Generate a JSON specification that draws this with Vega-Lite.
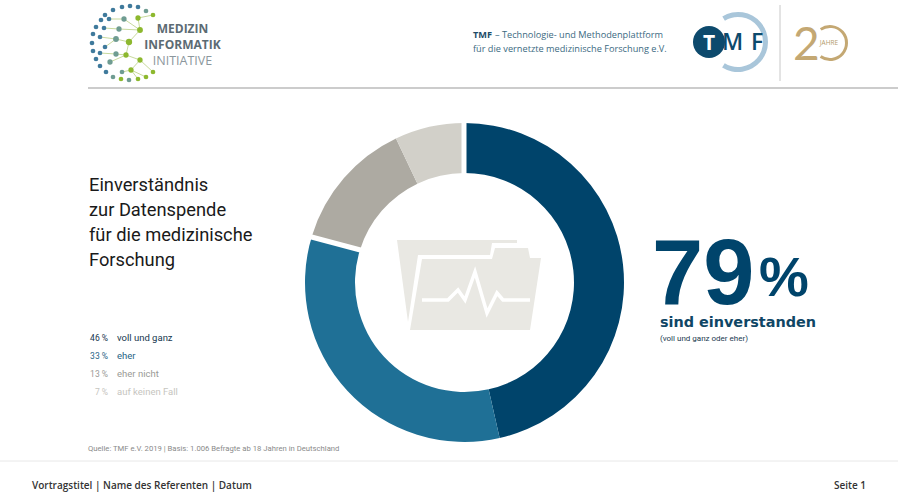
{
"$schema":"https://vega.github.io/schema/vega-lite/v6.json",
"width":898,"height":504,"padding":0,"autosize":{"type":"none"},"background":"#ffffff",
"config":{"view":{"stroke":null},"text":{"font":"Roboto","align":"left","baseline":"alphabetic"}},
"resolve":{"scale":{"y":"independent","x":"independent","color":"independent","size":"independent"}},
"datasets":{
"answers":[
{"answer":"voll und ganz","share":46,"rank":1,"pct":"46 %"},
{"answer":"eher","share":33,"rank":2,"pct":"33 %"},
{"answer":"eher nicht","share":13,"rank":3,"pct":"13 %"},
{"answer":"auf keinen Fall","share":7,"rank":4,"pct":"7 %"}],
"links":[
{"u":124,"v":19,"u2":140,"v2":30},{"u":138,"v":18,"u2":140,"v2":30},{"u":153,"v":15,"u2":138,"v2":18},{"u":119,"v":29,"u2":140,"v2":30},{"u":116,"v":39,"u2":129,"v2":42},{"u":140,"v":30,"u2":129,"v2":42},{"u":129,"v":42,"u2":126,"v2":55},{"u":126,"v":55,"u2":140,"v2":60},{"u":140,"v":60,"u2":153,"v2":72},{"u":140,"v":60,"u2":131,"v2":70},{"u":131,"v":70,"u2":122,"v2":72},{"u":131,"v":70,"u2":146,"v2":77},{"u":116,"v":54,"u2":126,"v2":55},{"u":110,"v":62,"u2":126,"v2":55},{"u":131,"v":70,"u2":138,"v2":79},{"u":109,"v":19,"u2":124,"v2":19},{"u":104,"v":28,"u2":119,"v2":29},{"u":100,"v":37,"u2":116,"v2":39},{"u":105,"v":47,"u2":116,"v2":39},{"u":100,"v":53,"u2":116,"v2":54}],
"nodes":[
{"u":122,"v":7,"tone":"blue","kind":"s"},{"u":130,"v":6,"tone":"blue","kind":"s"},{"u":138,"v":7,"tone":"blue","kind":"s"},{"u":113,"v":10,"tone":"blue","kind":"s"},{"u":105,"v":15,"tone":"blue","kind":"s"},{"u":101,"v":20,"tone":"blue","kind":"s"},{"u":96,"v":27,"tone":"blue","kind":"s"},{"u":93,"v":34,"tone":"blue","kind":"s"},{"u":92,"v":43,"tone":"blue","kind":"s"},{"u":93,"v":51,"tone":"blue","kind":"s"},{"u":96,"v":59,"tone":"blue","kind":"s"},{"u":100,"v":66,"tone":"blue","kind":"s"},{"u":106,"v":72,"tone":"blue","kind":"s"},{"u":113,"v":77,"tone":"teal","kind":"s"},{"u":121,"v":79,"tone":"green","kind":"s"},{"u":129,"v":80,"tone":"teal","kind":"s"},{"u":138,"v":79,"tone":"green","kind":"s"},{"u":146,"v":77,"tone":"green","kind":"s"},{"u":153,"v":72,"tone":"green","kind":"s"},{"u":146,"v":11,"tone":"teal","kind":"s"},{"u":153,"v":15,"tone":"green","kind":"s"},
{"u":124,"v":19,"tone":"teal","kind":"m"},{"u":109,"v":19,"tone":"blue","kind":"s"},{"u":138,"v":18,"tone":"green","kind":"m"},{"u":119,"v":29,"tone":"teal","kind":"m"},{"u":104,"v":28,"tone":"blue","kind":"s"},{"u":140,"v":30,"tone":"green","kind":"l"},{"u":100,"v":37,"tone":"blue","kind":"s"},{"u":116,"v":39,"tone":"teal","kind":"l"},{"u":129,"v":42,"tone":"green","kind":"xl"},{"u":105,"v":47,"tone":"blue","kind":"s"},{"u":100,"v":53,"tone":"blue","kind":"s"},{"u":116,"v":54,"tone":"teal","kind":"m"},{"u":126,"v":55,"tone":"green","kind":"m"},{"u":110,"v":62,"tone":"teal","kind":"m"},{"u":140,"v":60,"tone":"green","kind":"m"},{"u":131,"v":70,"tone":"green","kind":"m"},{"u":122,"v":72,"tone":"teal","kind":"s"}]
},
"layer":[
{"data":{"name":"answers"},
 "mark":{"type":"arc","outerRadius":159.5,"innerRadius":109.5},
 "encoding":{
  "x":{"datum":464.5,"type":"quantitative","scale":{"domain":[0,898],"range":[0,898]},"axis":null},
  "y":{"datum":282.5,"type":"quantitative","scale":{"domain":[0,504],"range":[0,504]},"axis":null},
  "theta":{"field":"share","type":"quantitative","stack":true},
  "order":{"field":"rank"},
  "color":{"field":"answer","type":"nominal","legend":null,"sort":null,"scale":{"domain":["voll und ganz","eher","eher nicht","auf keinen Fall"],"range":["#00446b","#1f7096","#adaaa2","#d2d0c9"]}}}},
{"data":{"values":[{"label":"gap top"}]},
 "mark":{"type":"rule","color":"#ffffff","strokeWidth":5},
 "encoding":{"x":{"datum":464,"type":"quantitative","scale":{"domain":[0,898],"range":[0,898]},"axis":null},"y":{"datum":118,"type":"quantitative","scale":{"domain":[0,504],"range":[0,504]},"axis":null},"y2":{"datum":178}}},
{"data":{"values":[{"label":"gap left"}]},
 "mark":{"type":"rule","color":"#ffffff","strokeWidth":5},
 "encoding":{"x":{"datum":304,"type":"quantitative","scale":{"domain":[0,898],"range":[0,898]},"axis":null},"x2":{"datum":366},"y":{"datum":235,"type":"quantitative","scale":{"domain":[0,504],"range":[0,504]},"axis":null},"y2":{"datum":251.5}}},
{"data":{"name":"answers"},
 "mark":{"type":"text","fontSize":8.5,"align":"right","baseline":"middle"},
 "encoding":{
  "x":{"datum":108,"type":"quantitative","scale":{"domain":[0,898],"range":[0,898]},"axis":null},
  "y":{"field":"answer","type":"ordinal","sort":null,"scale":{"type":"point","padding":0,"domain":["voll und ganz","eher","eher nicht","auf keinen Fall"],"range":[338,392]},"axis":null},
  "text":{"field":"pct"},
  "color":{"field":"answer","type":"nominal","legend":null,"scale":{"domain":["voll und ganz","eher","eher nicht","auf keinen Fall"],"range":["#16384f","#1f6485","#9a9a96","#c6c5c0"]}}}},
{"data":{"name":"answers"},
 "mark":{"type":"text","fontSize":9.5,"align":"left","baseline":"middle"},
 "encoding":{
  "x":{"datum":117,"type":"quantitative","scale":{"domain":[0,898],"range":[0,898]},"axis":null},
  "y":{"field":"answer","type":"ordinal","sort":null,"scale":{"type":"point","padding":0,"domain":["voll und ganz","eher","eher nicht","auf keinen Fall"],"range":[338,392]},"axis":null},
  "text":{"field":"answer"},
  "color":{"field":"answer","type":"nominal","legend":null,"scale":{"domain":["voll und ganz","eher","eher nicht","auf keinen Fall"],"range":["#16384f","#1f6485","#9a9a96","#c6c5c0"]}}}},
{"data":{"values":[{"label":"folder"}]},
 "mark":{"type":"point","filled":true,"size":4,"opacity":1,"color":"#e9e8e3","shape":"M-68,-45L52,-45L52,-42L27,-42L25,-30L-47,-30L-57,37ZM-43,-26L27,-26L30,-37L63,-37L65,-27L76,-27L65,45L-55,45Z"},
 "encoding":{"x":{"datum":465,"type":"quantitative","scale":{"domain":[0,898],"range":[0,898]},"axis":null},"y":{"datum":285,"type":"quantitative","scale":{"domain":[0,504],"range":[0,504]},"axis":null}}},
{"data":{"values":[{"label":"pulse"}]},
 "mark":{"type":"point","filled":false,"size":4,"opacity":1,"stroke":"#ffffff","strokeWidth":3.5,"shape":"M-43,15L-17,15L-7,5L0,15L10,-13L22,28L32,8L38,15L65,15"},
 "encoding":{"x":{"datum":465,"type":"quantitative","scale":{"domain":[0,898],"range":[0,898]},"axis":null},"y":{"datum":285,"type":"quantitative","scale":{"domain":[0,504],"range":[0,504]},"axis":null}}},
{"data":{"values":[{"label":"Einverständnis\nzur Datenspende\nfür die medizinische\nForschung"}]},
 "mark":{"type":"text","fontSize":18.3,"lineBreak":"\n","lineHeight":25,"color":"#1a1a1a"},
 "encoding":{"text":{"field":"label"},"x":{"datum":89,"type":"quantitative","scale":{"domain":[0,898],"range":[0,898]},"axis":null},"y":{"datum":191,"type":"quantitative","scale":{"domain":[0,504],"range":[0,504]},"axis":null}}},
{"data":{"values":[{"label":"79"}]},
 "mark":{"type":"text","fontSize":92,"font":"Liberation Sans","fontWeight":"bold","color":"#00446b"},
 "encoding":{"text":{"field":"label"},"x":{"datum":652,"type":"quantitative","scale":{"domain":[0,898],"range":[0,898]},"axis":null},"y":{"datum":304,"type":"quantitative","scale":{"domain":[0,504],"range":[0,504]},"axis":null}}},
{"data":{"values":[{"label":"%"}]},
 "mark":{"type":"text","fontSize":56,"font":"Liberation Sans","fontWeight":"bold","color":"#00446b"},
 "encoding":{"text":{"field":"label"},"x":{"datum":759,"type":"quantitative","scale":{"domain":[0,898],"range":[0,898]},"axis":null},"y":{"datum":296,"type":"quantitative","scale":{"domain":[0,504],"range":[0,504]},"axis":null}}},
{"data":{"values":[{"label":"sind einverstanden"}]},
 "mark":{"type":"text","fontSize":14.4,"font":"DejaVu Sans","fontWeight":"bold","color":"#0f4665"},
 "encoding":{"text":{"field":"label"},"x":{"datum":660,"type":"quantitative","scale":{"domain":[0,898],"range":[0,898]},"axis":null},"y":{"datum":327,"type":"quantitative","scale":{"domain":[0,504],"range":[0,504]},"axis":null}}},
{"data":{"values":[{"label":"(voll und ganz oder eher)"}]},
 "mark":{"type":"text","fontSize":8,"color":"#1a3a50"},
 "encoding":{"text":{"field":"label"},"x":{"datum":660,"type":"quantitative","scale":{"domain":[0,898],"range":[0,898]},"axis":null},"y":{"datum":341,"type":"quantitative","scale":{"domain":[0,504],"range":[0,504]},"axis":null}}},
{"data":{"values":[{"label":"Quelle: TMF e.V. 2019 | Basis: 1.006 Befragte ab 18 Jahren in Deutschland"}]},
 "mark":{"type":"text","fontSize":7.7,"color":"#8a8a8a"},
 "encoding":{"text":{"field":"label"},"x":{"datum":88,"type":"quantitative","scale":{"domain":[0,898],"range":[0,898]},"axis":null},"y":{"datum":451,"type":"quantitative","scale":{"domain":[0,504],"range":[0,504]},"axis":null}}},
{"data":{"values":[{"label":"header"}]},
 "mark":{"type":"rule","color":"#9a9a9a","strokeWidth":1.2},
 "encoding":{"x":{"datum":88,"type":"quantitative","scale":{"domain":[0,898],"range":[0,898]},"axis":null},"x2":{"datum":898},"y":{"datum":88,"type":"quantitative","scale":{"domain":[0,504],"range":[0,504]},"axis":null}}},
{"data":{"values":[{"label":"footer"}]},
 "mark":{"type":"rule","color":"#e8e8e8","strokeWidth":1},
 "encoding":{"x":{"datum":0,"type":"quantitative","scale":{"domain":[0,898],"range":[0,898]},"axis":null},"x2":{"datum":898},"y":{"datum":461,"type":"quantitative","scale":{"domain":[0,504],"range":[0,504]},"axis":null}}},
{"data":{"values":[{"label":"divider"}]},
 "mark":{"type":"rule","color":"#c8c8c8","strokeWidth":1},
 "encoding":{"x":{"datum":780,"type":"quantitative","scale":{"domain":[0,898],"range":[0,898]},"axis":null},"y":{"datum":5,"type":"quantitative","scale":{"domain":[0,504],"range":[0,504]},"axis":null},"y2":{"datum":81}}},
{"data":{"values":[{"label":"Vortragstitel  |  Name des Referenten  |  Datum"}]},
 "mark":{"type":"text","font":"Open Sans","fontSize":10,"fontWeight":600,"color":"#333333"},
 "encoding":{"text":{"field":"label"},"x":{"datum":32,"type":"quantitative","scale":{"domain":[0,898],"range":[0,898]},"axis":null},"y":{"datum":489,"type":"quantitative","scale":{"domain":[0,504],"range":[0,504]},"axis":null}}},
{"data":{"values":[{"label":"Seite 1"}]},
 "mark":{"type":"text","font":"Open Sans","fontSize":10,"fontWeight":600,"align":"right","color":"#333333"},
 "encoding":{"text":{"field":"label"},"x":{"datum":866,"type":"quantitative","scale":{"domain":[0,898],"range":[0,898]},"axis":null},"y":{"datum":489,"type":"quantitative","scale":{"domain":[0,504],"range":[0,504]},"axis":null}}},
{"data":{"name":"links"},
 "mark":{"type":"rule","color":"#b9cf83","strokeWidth":0.8},
 "encoding":{
  "x":{"field":"u","type":"quantitative","scale":{"domain":[0,898],"range":[0,898]},"axis":null},
  "x2":{"field":"u2"},
  "y":{"field":"v","type":"quantitative","scale":{"domain":[0,504],"range":[0,504]},"axis":null},
  "y2":{"field":"v2"}}},
{"data":{"name":"nodes"},
 "mark":{"type":"point","filled":true,"opacity":1,"shape":"circle"},
 "encoding":{
  "x":{"field":"u","type":"quantitative","scale":{"domain":[0,898],"range":[0,898]},"axis":null},
  "y":{"field":"v","type":"quantitative","scale":{"domain":[0,504],"range":[0,504]},"axis":null},
  "color":{"field":"tone","type":"nominal","legend":null,"scale":{"domain":["blue","teal","green"],"range":["#3f7a9c","#6f9c92","#8db82e"]}},
  "size":{"field":"kind","type":"ordinal","legend":null,"scale":{"domain":["s","m","l","xl"],"range":[22,40,55,75]}}}},
{"data":{"values":[{"label":"MEDIZIN"}]},
 "mark":{"type":"text","font":"Open Sans","fontSize":12,"fontWeight":"bold","align":"center","color":"#5c6b73"},
 "encoding":{"text":{"field":"label"},"x":{"datum":182.5,"type":"quantitative","scale":{"domain":[0,898],"range":[0,898]},"axis":null},"y":{"datum":33,"type":"quantitative","scale":{"domain":[0,504],"range":[0,504]},"axis":null}}},
{"data":{"values":[{"label":"INFORMATIK"}]},
 "mark":{"type":"text","font":"Open Sans","fontSize":12,"fontWeight":"bold","align":"center","color":"#5c6b73"},
 "encoding":{"text":{"field":"label"},"x":{"datum":182.5,"type":"quantitative","scale":{"domain":[0,898],"range":[0,898]},"axis":null},"y":{"datum":49,"type":"quantitative","scale":{"domain":[0,504],"range":[0,504]},"axis":null}}},
{"data":{"values":[{"label":"INITIATIVE"}]},
 "mark":{"type":"text","font":"Open Sans","fontSize":12.5,"align":"center","color":"#8b979d"},
 "encoding":{"text":{"field":"label"},"x":{"datum":182.5,"type":"quantitative","scale":{"domain":[0,898],"range":[0,898]},"axis":null},"y":{"datum":65,"type":"quantitative","scale":{"domain":[0,504],"range":[0,504]},"axis":null}}},
{"data":{"values":[{"label":"TMF"}]},
 "mark":{"type":"text","font":"Open Sans","fontSize":9.2,"fontWeight":"bold","color":"#1d4c68"},
 "encoding":{"text":{"field":"label"},"x":{"datum":473,"type":"quantitative","scale":{"domain":[0,898],"range":[0,898]},"axis":null},"y":{"datum":38,"type":"quantitative","scale":{"domain":[0,504],"range":[0,504]},"axis":null}}},
{"data":{"values":[{"label":"– Technologie- und Methodenplattform"}]},
 "mark":{"type":"text","font":"Open Sans","fontSize":9.2,"color":"#3b6a82"},
 "encoding":{"text":{"field":"label"},"x":{"datum":495,"type":"quantitative","scale":{"domain":[0,898],"range":[0,898]},"axis":null},"y":{"datum":38,"type":"quantitative","scale":{"domain":[0,504],"range":[0,504]},"axis":null}}},
{"data":{"values":[{"label":"für die vernetzte medizinische Forschung e.V."}]},
 "mark":{"type":"text","font":"Open Sans","fontSize":9.2,"color":"#3b6a82"},
 "encoding":{"text":{"field":"label"},"x":{"datum":473,"type":"quantitative","scale":{"domain":[0,898],"range":[0,898]},"axis":null},"y":{"datum":52,"type":"quantitative","scale":{"domain":[0,504],"range":[0,504]},"axis":null}}},
{"data":{"values":[{"label":"ring"}]},
 "mark":{"type":"arc","radius":30,"radius2":25,"theta":-0.55,"theta2":3.7,"color":"#a9c6da"},
 "encoding":{"x":{"datum":738,"type":"quantitative","scale":{"domain":[0,898],"range":[0,898]},"axis":null},"y":{"datum":42,"type":"quantitative","scale":{"domain":[0,504],"range":[0,504]},"axis":null}}},
{"data":{"values":[{"label":"disc"}]},
 "mark":{"type":"arc","radius":16,"radius2":0,"theta":0,"theta2":6.2832,"color":"#0d4a6d"},
 "encoding":{"x":{"datum":709,"type":"quantitative","scale":{"domain":[0,898],"range":[0,898]},"axis":null},"y":{"datum":42,"type":"quantitative","scale":{"domain":[0,504],"range":[0,504]},"axis":null}}},
{"data":{"values":[{"label":"T"}]},
 "mark":{"type":"text","font":"Open Sans","fontSize":21,"fontWeight":"bold","align":"center","color":"#ffffff"},
 "encoding":{"text":{"field":"label"},"x":{"datum":709,"type":"quantitative","scale":{"domain":[0,898],"range":[0,898]},"axis":null},"y":{"datum":50,"type":"quantitative","scale":{"domain":[0,504],"range":[0,504]},"axis":null}}},
{"data":{"values":[{"label":"M"}]},
 "mark":{"type":"text","font":"Open Sans","fontSize":23,"fontWeight":600,"align":"left","color":"#0d4a6d"},
 "encoding":{"text":{"field":"label"},"x":{"datum":722,"type":"quantitative","scale":{"domain":[0,898],"range":[0,898]},"axis":null},"y":{"datum":50,"type":"quantitative","scale":{"domain":[0,504],"range":[0,504]},"axis":null}}},
{"data":{"values":[{"label":"F"}]},
 "mark":{"type":"text","font":"Open Sans","fontSize":23,"fontWeight":600,"align":"left","color":"#0d4a6d"},
 "encoding":{"text":{"field":"label"},"x":{"datum":751,"type":"quantitative","scale":{"domain":[0,898],"range":[0,898]},"axis":null},"y":{"datum":50,"type":"quantitative","scale":{"domain":[0,504],"range":[0,504]},"axis":null}}},
{"data":{"values":[{"label":"2"}]},
 "mark":{"type":"text","font":"Lato","fontSize":46,"color":"#c4a873"},
 "encoding":{"text":{"field":"label"},"x":{"datum":793,"type":"quantitative","scale":{"domain":[0,898],"range":[0,898]},"axis":null},"y":{"datum":60,"type":"quantitative","scale":{"domain":[0,504],"range":[0,504]},"axis":null}}},
{"data":{"values":[{"label":"zero"}]},
 "mark":{"type":"arc","radius":18,"radius2":15,"theta":-0.6,"theta2":3.75,"color":"#c4a873"},
 "encoding":{"x":{"datum":830,"type":"quantitative","scale":{"domain":[0,898],"range":[0,898]},"axis":null},"y":{"datum":43,"type":"quantitative","scale":{"domain":[0,504],"range":[0,504]},"axis":null}}},
{"data":{"values":[{"label":"JAHRE"}]},
 "mark":{"type":"text","font":"Open Sans","fontSize":6.5,"align":"center","baseline":"middle","color":"#b39a6a"},
 "encoding":{"text":{"field":"label"},"x":{"datum":829,"type":"quantitative","scale":{"domain":[0,898],"range":[0,898]},"axis":null},"y":{"datum":43,"type":"quantitative","scale":{"domain":[0,504],"range":[0,504]},"axis":null}}}
]
}
